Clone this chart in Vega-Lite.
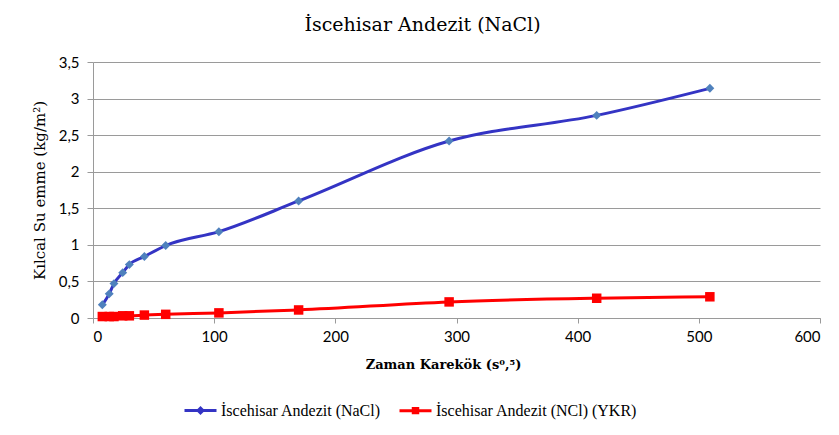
{
  "$schema": "https://vega.github.io/schema/vega-lite/v6.json",
  "width": 727,
  "height": 256,
  "autosize": "none",
  "padding": {"left": 93, "top": 62, "right": 19, "bottom": 117},
  "background": "white",
  "title": {
    "text": "İscehisar  Andezit (NaCl)",
    "font": "DejaVu Serif",
    "fontSize": 19,
    "fontWeight": "normal",
    "color": "#000000",
    "anchor": "middle",
    "offset": 20,
    "dx": -34
  },
  "data": {
    "values": [
      {"t": 7.7, "y": 0.18, "s": "İscehisar Andezit (NaCl)"},
      {"t": 13.4, "y": 0.33, "s": "İscehisar Andezit (NaCl)"},
      {"t": 17.3, "y": 0.47, "s": "İscehisar Andezit (NaCl)"},
      {"t": 24.5, "y": 0.62, "s": "İscehisar Andezit (NaCl)"},
      {"t": 30, "y": 0.73, "s": "İscehisar Andezit (NaCl)"},
      {"t": 42.4, "y": 0.84, "s": "İscehisar Andezit (NaCl)"},
      {"t": 60, "y": 0.99, "s": "İscehisar Andezit (NaCl)"},
      {"t": 103.9, "y": 1.18, "s": "İscehisar Andezit (NaCl)"},
      {"t": 169.7, "y": 1.6, "s": "İscehisar Andezit (NaCl)"},
      {"t": 293.9, "y": 2.42, "s": "İscehisar Andezit (NaCl)"},
      {"t": 415.7, "y": 2.77, "s": "İscehisar Andezit (NaCl)"},
      {"t": 509.1, "y": 3.14, "s": "İscehisar Andezit (NaCl)"},
      {"t": 7.7, "y": 0.02, "s": "İscehisar Andezit  (NCl) (YKR)"},
      {"t": 13.4, "y": 0.02, "s": "İscehisar Andezit  (NCl) (YKR)"},
      {"t": 17.3, "y": 0.02, "s": "İscehisar Andezit  (NCl) (YKR)"},
      {"t": 24.5, "y": 0.03, "s": "İscehisar Andezit  (NCl) (YKR)"},
      {"t": 30, "y": 0.03, "s": "İscehisar Andezit  (NCl) (YKR)"},
      {"t": 42.4, "y": 0.04, "s": "İscehisar Andezit  (NCl) (YKR)"},
      {"t": 60, "y": 0.05, "s": "İscehisar Andezit  (NCl) (YKR)"},
      {"t": 103.9, "y": 0.07, "s": "İscehisar Andezit  (NCl) (YKR)"},
      {"t": 169.7, "y": 0.11, "s": "İscehisar Andezit  (NCl) (YKR)"},
      {"t": 293.9, "y": 0.22, "s": "İscehisar Andezit  (NCl) (YKR)"},
      {"t": 415.7, "y": 0.27, "s": "İscehisar Andezit  (NCl) (YKR)"},
      {"t": 509.1, "y": 0.29, "s": "İscehisar Andezit  (NCl) (YKR)"}
    ]
  },
  "encoding": {
    "x": {
      "field": "t",
      "type": "quantitative",
      "scale": {"domain": [0, 600], "nice": false},
      "axis": {
        "title": "Zaman Karekök (s⁰,⁵)",
        "values": [0, 100, 200, 300, 400, 500, 600],
        "grid": false,
        "domainColor": "#9a9a9a",
        "tickColor": "#9a9a9a",
        "tickSize": 5,
        "labelFont": "Lato",
        "labelFontSize": 15,
        "labelColor": "#000000",
        "labelPadding": 6,
        "titleFont": "DejaVu Serif",
        "titleFontSize": 13,
        "titleFontWeight": "bold",
        "titleColor": "#000000",
        "titlePadding": 14,
        "titleX": 350
      }
    },
    "y": {
      "field": "y",
      "type": "quantitative",
      "scale": {"domain": [0, 3.5], "nice": false},
      "axis": {
        "title": "Kılcal Su emme (kg/m²)",
        "values": [0, 0.5, 1, 1.5, 2, 2.5, 3, 3.5],
        "labelExpr": "replace(format(datum.value, '.1~f'), '.', ',')",
        "gridColor": "#9a9a9a",
        "gridWidth": 1,
        "domainColor": "#9a9a9a",
        "tickColor": "#9a9a9a",
        "tickSize": 6,
        "labelFont": "Lato",
        "labelFontSize": 15,
        "labelColor": "#000000",
        "labelPadding": 8,
        "titleFont": "DejaVu Serif",
        "titleFontSize": 15,
        "titleFontWeight": "normal",
        "titleColor": "#000000",
        "titlePadding": 11
      }
    }
  },
  "layer": [
    {
      "mark": {"type": "point", "filled": true, "strokeWidth": 3, "opacity": 0},
      "encoding": {
        "shape": {
          "field": "s",
          "type": "nominal",
          "scale": {"domain": ["İscehisar Andezit (NaCl)", "İscehisar Andezit  (NCl) (YKR)"], "range": ["M-1,0H1M-0.15,0L0,-0.15L0.15,0L0,0.15Z", "M-1,0H1M-0.14,-0.14H0.14V0.14H-0.14Z"]},
          "legend": {
            "title": null,
            "orient": "none",
            "direction": "horizontal",
            "legendX": 90,
            "legendY": 331,
            "labelFont": "Liberation Serif",
            "labelFontSize": 16,
            "labelColor": "#000000",
            "labelLimit": 0,
            "symbolSize": 1024,
            "symbolStrokeWidth": 3,
            "symbolOpacity": 1,
            "columnPadding": 12,
            "labelOffset": 3
          }
        },
        "fill": {
          "field": "s",
          "type": "nominal",
          "scale": {"domain": ["İscehisar Andezit (NaCl)", "İscehisar Andezit  (NCl) (YKR)"], "range": ["#4f81bd", "#ff0000"]}
        },
        "stroke": {
          "field": "s",
          "type": "nominal",
          "scale": {"domain": ["İscehisar Andezit (NaCl)", "İscehisar Andezit  (NCl) (YKR)"], "range": ["#3434c4", "#ff0000"]}
        }
      }
    },
    {
      "mark": {"type": "line", "interpolate": "monotone", "strokeWidth": 3},
      "encoding": {
        "color": {
          "field": "s",
          "type": "nominal",
          "scale": {"domain": ["İscehisar Andezit (NaCl)", "İscehisar Andezit  (NCl) (YKR)"], "range": ["#3434c4", "#ff0000"]},
          "legend": null
        }
      }
    },
    {
      "transform": [{"filter": "datum.s === 'İscehisar Andezit (NaCl)'"}],
      "mark": {"type": "point", "shape": "diamond", "filled": true, "color": "#4f81bd", "size": 80, "opacity": 1}
    },
    {
      "transform": [{"filter": "datum.s === 'İscehisar Andezit  (NCl) (YKR)'"}],
      "mark": {"type": "point", "shape": "square", "filled": true, "color": "#ff0000", "size": 90, "opacity": 1}
    }
  ],
  "config": {
    "view": {"stroke": null},
    "axis": {"labelFontWeight": "normal"}
  }
}
